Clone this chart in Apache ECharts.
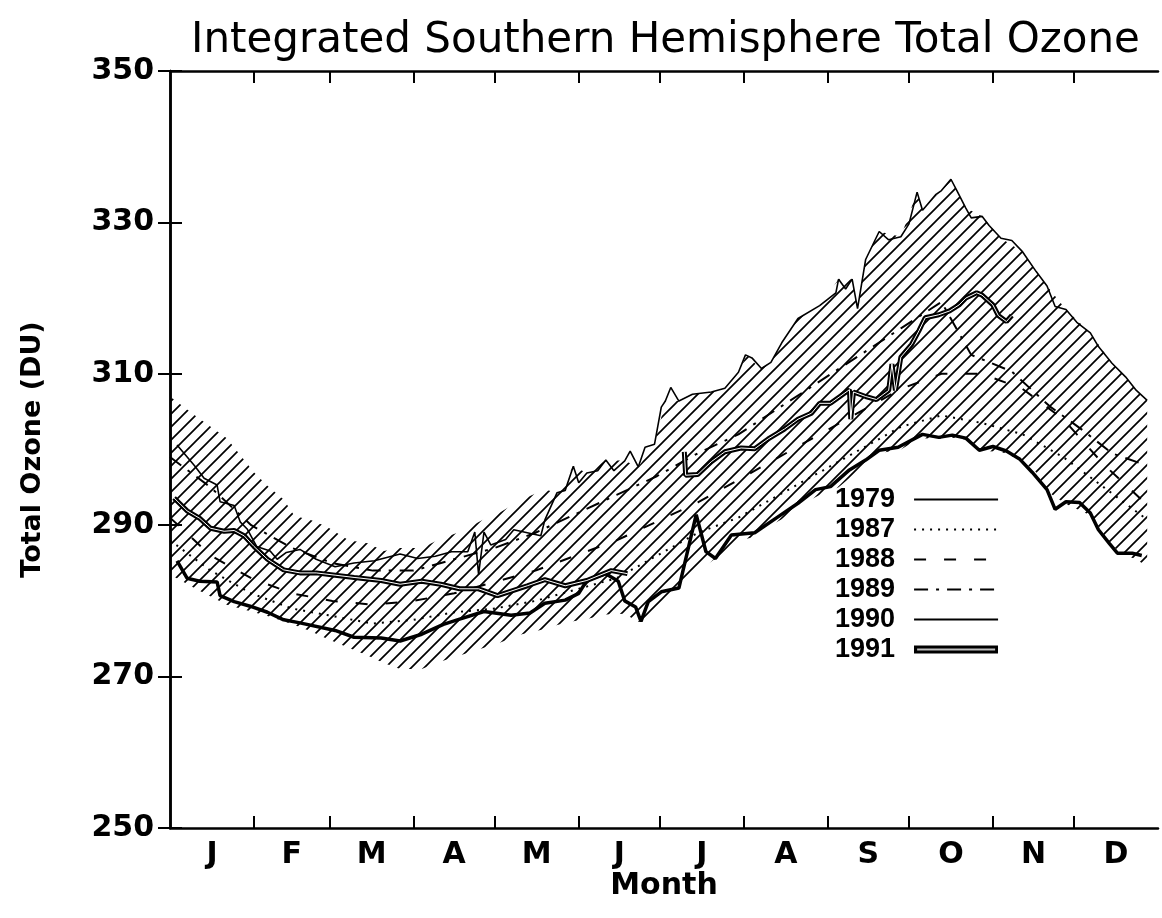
<!DOCTYPE html>
<html>
<head>
<meta charset="utf-8">
<script src="https://cdn.jsdelivr.net/npm/echarts@6/dist/echarts.min.js"></script>
<style>
  html, body { margin: 0; padding: 0; background: #fff; }
  #chart { width: 1162px; height: 918px; }
</style>
</head>
<body>
<div id="chart"></div>
<script>
// month letters, month start days and label positions (mid month)
const months = ['J', 'F', 'M', 'A', 'M', 'J', 'J', 'A', 'S', 'O', 'N', 'D'];
const monthStarts = [0, 31, 59, 90, 120, 151, 181, 212, 243, 273, 304, 334, 365];

// hatched envelope (day of year, upper, lower)
const envDays = [0, 10, 21, 31, 36, 42, 46, 52, 58, 66, 73, 79, 85, 93, 100, 107, 116, 122, 130, 138.5,
  143, 149, 154, 161, 168, 173, 179, 183, 188, 193, 200, 205, 210, 213, 218, 222, 226, 232, 240, 247,
  252, 254, 257, 262, 270, 276, 278, 285, 288.5, 294, 300, 307, 315, 320, 324, 331, 340, 348, 353, 357, 361];
const envUpper = [307, 304.3, 301.5, 297, 295.2, 293.4, 291.2, 290.7, 289.8, 288, 287.6, 286.6, 287, 287, 288.2, 289.1, 290.8, 291.7, 293.4, 294.7,
  294.3, 297.8, 296.9, 298.6, 298.5, 297.7, 300.7, 306.4, 306.4, 307.3, 307.6, 308.1, 310.2, 312.5, 310.7, 311.5, 314.1, 317.3, 319, 322.5,
  322.5, 318.6, 325.1, 328.8, 328.1, 334, 331.6, 334.2, 335.7, 331.9, 330.8, 327.9, 326.1, 323.5, 321.6, 318.5, 315.4, 311.4, 309.6, 307.8, 306.5];
const envLower = [283.5, 281.5, 279.5, 278.5, 278, 277.3, 276.8, 276, 275, 273.8, 272.8, 271.8, 271, 271, 272, 272.8, 273.8, 274.5, 275.6, 276.3,
  276.8, 277.3, 277.6, 278.2, 278.3, 277.2, 278.6, 280, 281.3, 283.5, 285.2, 286.5, 287.8, 288.2, 288.6, 290, 290.8, 292.5, 294, 295,
  296.5, 297, 298, 299.5, 300, 301.3, 301.5, 301.4, 301.6, 301.3, 299.8, 299.7, 298.5, 297, 294.5, 292.8, 291.3, 287.3, 286, 285.5, 284.5];

// yearly curves [day, DU]
const y1979 = [[2.6,300.6],[9,297.9],[12.6,296.2],[17.4,295.3],[18.5,293.1],[23.7,292.6],[26,290.4],[28.5,289.5],[32,287.2],[37,286.6],
  [39.6,285.5],[43,286.4],[48,286.8],[54,285.5],[61,284.5],[68,285],[75.5,285.3],[85,286.2],[91.5,285.6],[98,285.9],[104,286.5],[110,286.5],
  [112.6,289.1],[114,283.5],[116,289.1],[118.5,287.4],[124,288.1],[127,289.4],[132,289],[137,288.6],[138.5,290.7],[143,294.3],[146,294.6],
  [149,297.8],[151,295.6],[154,296.9],[158,297.2],[161,298.6],[164,297.2],[168,298.5],[170,299.8],[173,297.7],[175.5,300.3],[179,300.7],
  [181.5,305.6],[183,306.4],[185,308.2],[188,306.4],[193,307.3],[200,307.6],[205,308.1],[210,310.2],[212.6,312.5],[215,312.1],[218.5,310.7],
  [222,311.5],[226,314.1],[232,317.3],[240,319],[246,320.7],[247,322.5],[249.6,321.2],[252,322.5],[254,318.6],[257,325.1],[262,328.8],
  [265.5,327.7],[270,328.1],[273,329.8],[276,334],[278,331.6],[283,333.7],[285,334.2],[288.5,335.7],[290.7,334.2],[294,331.9],[296,330.6],
  [300,330.8],[302.6,329.6],[307,327.9],[311,327.6],[315,326.1],[320,323.5],[324,321.6],[327,318.9],[331,318.5],[335,316.8],[340,315.4],
  [343,313.6],[348,311.4],[353,309.6],[357,307.8],[361,306.5]];
const y1987 = [[0,288],[15,284],[30,281],[45,279],[60,278],[75,277],[90,277.5],[105,278.5],[120,279],[135,280],[150,281.5],[165,283],
  [180,286],[195,289],[210,291],[225,294],[240,297],[255,300],[270,303],[285,304.5],[300,303.5],[315,302],[330,299],[345,295],[360,291]];
const y1988 = [[0,291],[15,286],[30,283],[45,281],[60,280],[75,279.5],[90,280],[105,281],[120,282.5],[135,284],[150,286],[165,288],
  [180,290.5],[195,293],[210,296],[225,299],[240,302],[255,305],[270,308],[285,310],[300,310],[315,308],[330,304],[345,298],[360,293]];
const y1989 = [[0,299],[15,295],[30,290],[45,287],[60,285],[75,284],[90,284],[105,285.5],[120,287],[135,289],[150,291.5],[165,294],
  [180,296.5],[195,299.5],[210,302],[225,305.5],[240,309],[255,312.5],[270,316],[285,319.5],[296,312.5],[311,310.3],[325,305.7],
  [337,302.6],[348,299.5],[360,298]];
const y1990 = [[2.6,285.3],[6.3,283],[11,282.6],[17.4,282.5],[18.5,280.7],[23.7,279.9],[29.6,279.3],[36,278.5],[42,277.5],[48,277.1],
  [61,276.1],[68,275.2],[78,275.1],[85,274.7],[93,275.6],[101,276.9],[107,277.6],[116,278.6],[126,278.1],[133,278.4],[138.5,279.7],
  [146,280.1],[151,281],[154,282.7],[161,283.6],[165.6,282.6],[168,280],[172,279.2],[174,277.3],[176.7,279.9],[181.5,281.2],[188,281.7],
  [191.5,287],[194.4,291.4],[198,286.5],[201.5,285.6],[207.4,288.7],[216,289],[225,291.2],[232,292.9],[238.5,294.7],[244,295.1],
  [251,297.3],[257,298.6],[262,299.9],[269,300.3],[278,302],[284,301.6],[289,301.9],[294,301.5],[299,299.9],[304,300.4],[309,299.8],
  [314,298.7],[318.5,297],[324,294.7],[327,292.1],[331,293.1],[336,293],[340,291.6],[343,289.4],[347,287.6],[350,286.3],[355.5,286.3],[359,286]];
const y1991 = [[1.5,293.6],[6.3,291.9],[11,290.9],[15,289.6],[20,289.2],[23.7,289.3],[27.4,288.6],[31,287.2],[36,285.5],[42,284.1],
  [48,283.7],[54,283.7],[61,283.4],[68,283.1],[78,282.7],[85,282.2],[93,282.6],[100,282.2],[107,281.6],[114,281.6],[121,280.7],[132,282],
  [138.5,282.8],[146,282],[154,282.7],[163,284],[169,283.6],[180,'-'],[190,299.7],[190.5,296.6],[195,296.7],[200,298.4],[205,299.7],
  [211,300.2],[216,300.1],[221,301.4],[227,302.7],[232,304],[237,304.8],[240,306.1],[244,306.1],[251,307.9],[251.5,304],[252.5,307.6],
  [257,307],[261,306.6],[265.5,307.8],[266.7,311.3],[268,307.8],[270,312.2],[274,313.9],[276.7,315.7],[279,317.4],[284,317.8],[288,318.3],
  [291.5,319.1],[294,320],[298,320.7],[300,320.4],[304,319.1],[306,317.7],[309,316.9],[311,317.7]];

const FONT = 'DejaVu Sans';

// diagonal hatch tile for the envelope
function hatchTile() {
  const c = document.createElement('canvas');
  c.width = 13; c.height = 13;
  const g = c.getContext('2d');
  g.strokeStyle = '#000';
  g.lineWidth = 1.7;
  g.beginPath();
  g.moveTo(0, 13); g.lineTo(13, 0);
  g.moveTo(-4, 4); g.lineTo(4, -4);
  g.moveTo(9, 17); g.lineTo(17, 9);
  g.stroke();
  return c;
}
const hatch = hatchTile();

// double line icon for 1991 legend
function doubleIcon() {
  const c = document.createElement('canvas');
  c.width = 84; c.height = 10;
  const g = c.getContext('2d');
  g.fillStyle = '#000';
  g.fillRect(0, 1, 84, 8);
  g.strokeStyle = '#fff';
  g.lineWidth = 1.6;
  g.beginPath(); g.moveTo(3, 5); g.lineTo(81, 5); g.stroke();
  return c.toDataURL();
}

function lineSeries(name, data, style) {
  return {
    name: name,
    type: 'line',
    data: data,
    symbol: 'none',
    connectNulls: false,
    lineStyle: Object.assign({ color: '#000' }, style),
    itemStyle: { color: '#000' },
    z: 3
  };
}

// whole envelope as one hatched polygon (upper edge forward, lower edge back)
function renderEnvelope(params, api) {
  if (params.dataIndex !== 0) return null;
  const pts = [];
  for (let i = 0; i < envDays.length; i++) pts.push(api.coord([envDays[i], envUpper[i]]));
  for (let i = envDays.length - 1; i >= 0; i--) pts.push(api.coord([envDays[i], envLower[i]]));
  return {
    type: 'polygon',
    shape: { points: pts },
    style: { fill: { image: hatch, repeat: 'repeat' }, stroke: null },
    silent: true
  };
}

const chart = echarts.init(document.getElementById('chart'));

const axisLine = { show: true, lineStyle: { color: '#000', width: 2.5 } };
const tickIn = { show: true, inside: true, length: 12, lineStyle: { color: '#000', width: 2 } };

const option = {
  animation: false,
  backgroundColor: '#fff',
  title: {
    text: 'Integrated Southern Hemisphere Total Ozone',
    left: 186,
    top: 15,
    textStyle: { fontFamily: FONT, fontSize: 42, fontWeight: 'normal', color: '#000' }
  },
  grid: { left: 170, right: 4, top: 71, bottom: 90, outerBoundsMode: 'none' },
  legend: {
    orient: 'vertical',
    left: 830,
    top: 481,
    align: 'right',
    itemWidth: 84,
    itemHeight: 10,
    itemGap: 3,
    selectedMode: false,
    itemStyle: { opacity: 0 },
    textStyle: {
      fontFamily: 'Liberation Sans', fontWeight: 'bold', fontSize: 27, color: '#000',
      lineHeight: 27, padding: [0, 14, 0, 0]
    },
    data: ['1979', '1987', '1988', '1989', '1990', { name: '1991', icon: 'image://' + doubleIcon(), itemStyle: { opacity: 1 } }]
  },
  xAxis: [
    {
      type: 'value',
      position: 'bottom',
      min: 0,
      max: 365,
      z: 5,
      axisLine: axisLine,
      axisTick: Object.assign({ customValues: monthStarts.slice(1, 12) }, tickIn),
      splitLine: { show: false },
      axisLabel: {
        customValues: monthStarts.slice(0, 12).map((d, i) => (d + monthStarts[i + 1]) / 2),
        formatter: function (v) {
          for (let i = 0; i < 12; i++) {
            if (v >= monthStarts[i] && v < monthStarts[i + 1]) return months[i];
          }
          return '';
        },
        margin: 12,
        fontFamily: FONT, fontWeight: 'bold', fontSize: 30, color: '#000'
      },
      name: 'Month',
      nameLocation: 'middle',
      nameGap: 43,
      nameMoveOverlap: false,
      nameTextStyle: { fontFamily: FONT, fontWeight: 'bold', fontSize: 30, color: '#000' }
    },
    {
      type: 'value',
      position: 'top',
      min: 0,
      max: 365,
      z: 5,
      axisLine: axisLine,
      axisTick: Object.assign({ customValues: monthStarts.slice(1, 12) }, tickIn),
      splitLine: { show: false },
      axisLabel: { show: false }
    }
  ],
  yAxis: [
    {
      type: 'value',
      position: 'left',
      min: 250,
      max: 350,
      interval: 20,
      z: 5,
      axisLine: axisLine,
      axisTick: tickIn,
      splitLine: { show: false },
      axisLabel: { margin: 16, fontFamily: FONT, fontWeight: 'bold', fontSize: 30, color: '#000' },
      name: 'Total Ozone (DU)',
      nameLocation: 'middle',
      nameGap: 124,
      nameMoveOverlap: false,
      nameTextStyle: { fontFamily: FONT, fontWeight: 'bold', fontSize: 27, color: '#000' }
    },
    {
      type: 'value',
      position: 'right',
      min: 250,
      max: 350,
      interval: 20,
      z: 5,
      axisLine: axisLine,
      axisTick: tickIn,
      splitLine: { show: false },
      axisLabel: { show: false }
    }
  ],
  series: [
    {
      name: 'envelope',
      type: 'custom',
      renderItem: renderEnvelope,
      data: envDays.map((d, i) => [d, envUpper[i], envLower[i]]),
      encode: { x: 0, y: [1, 2] },
      silent: true,
      z: 1
    },
    lineSeries('1979', y1979, { width: 1.6, type: 'solid' }),
    lineSeries('1987', y1987, { width: 2, type: [2, 6] }),
    lineSeries('1988', y1988, { width: 2, type: [12, 18] }),
    lineSeries('1989', y1989, { width: 2, type: [14, 8, 3, 8] }),
    lineSeries('1990', y1990, { width: 3.5, type: 'solid' }),
    lineSeries('1991', y1991, { width: 5, type: 'solid' }),
    Object.assign(lineSeries('1991 inner', y1991, { width: 1, type: 'solid', color: '#fff' }), { z: 4 })
  ]
};

chart.setOption(option);
</script>
</body>
</html>
